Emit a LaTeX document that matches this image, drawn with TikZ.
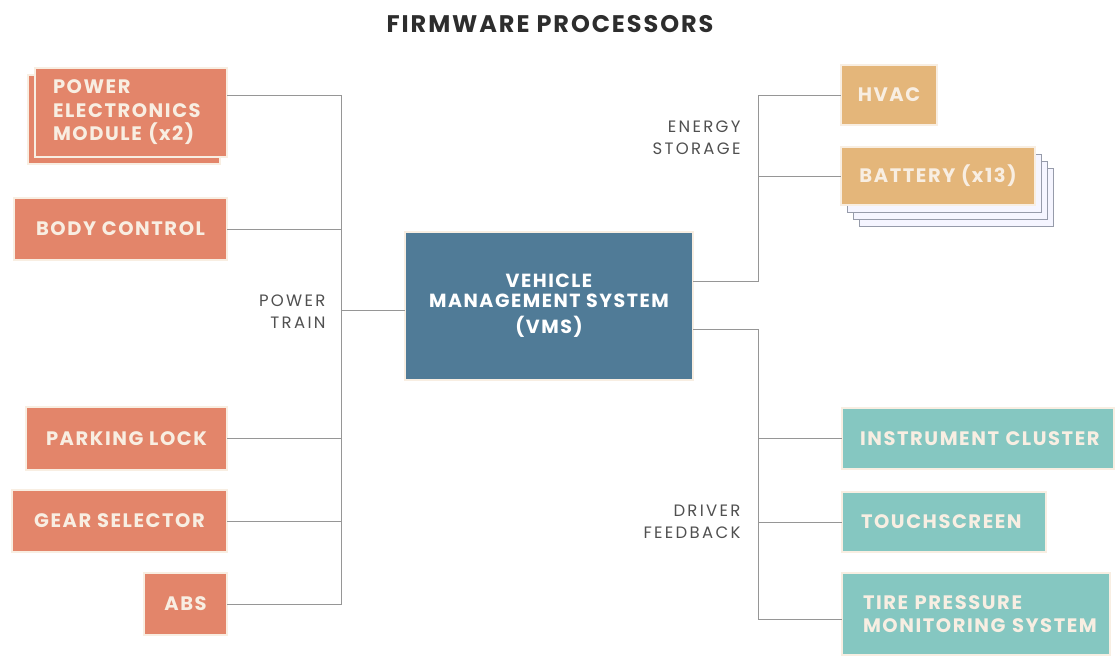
\documentclass[tikz,border=0pt]{standalone}
\usepackage{fontspec}
\setmainfont{Poppins}[LetterSpace=8]
\newfontfamily\grpfont{Poppins}[LetterSpace=14]
\usetikzlibrary{positioning}

\definecolor{ptfill}{RGB}{227,133,106}
\definecolor{esfill}{RGB}{228,182,122}
\definecolor{dffill}{RGB}{133,199,193}
\definecolor{vmsfill}{RGB}{80,123,151}
\definecolor{rimgray}{RGB}{140,132,128}
\definecolor{stackgray}{RGB}{150,155,170}
\definecolor{cream}{RGB}{248,238,226}
\definecolor{wiregray}{RGB}{150,150,150}
\definecolor{labelgray}{RGB}{80,80,80}
\definecolor{titlegray}{RGB}{45,45,45}

\begin{document}
\begin{tikzpicture}[
  x=1pt, y=-1pt,
  box/.style={rectangle, draw=rimgray, double=cream, double distance=1.6pt,
              line width=0.6pt, text=cream, inner sep=0pt,
              font=\bfseries\fontsize{19.5}{23.5}\selectfont},
  ptbox/.style={box, fill=ptfill},
  esbox/.style={box, fill=esfill},
  dfbox/.style={box, fill=dffill},
  sheet/.style={rectangle, draw=stackgray, line width=0.9pt, fill=white!96!blue,
                minimum width=194, minimum height=58},
  wire/.style={draw=wiregray, line width=1pt},
  grp/.style={anchor=east, align=right, text=labelgray,
              font=\grpfont\fontsize{16.5}{22}\selectfont}
]
  \useasboundingbox (0,0) rectangle (1116,657);

  \node[font=\bfseries\fontsize{24}{28}\selectfont, text=titlegray] (title) at (550,24) {FIRMWARE PROCESSORS};

  % power train
  \node[ptbox, minimum width=192, minimum height=89] (pemback) at (124,119.5) {};
  \node[ptbox, minimum width=192, minimum height=89, text width=156, align=left] (pem) at (131,112.5)
    {POWER\\ELECTRONICS\\MODULE (x2)};
  \node[ptbox, minimum width=213, minimum height=62] (body) at (120.5,229) {BODY CONTROL};
  \node[ptbox, minimum width=201, minimum height=63] (park) at (126.5,438.5) {PARKING LOCK};
  \node[ptbox, minimum width=215, minimum height=62] (gear) at (119.5,521) {GEAR SELECTOR};
  \node[ptbox, minimum width=83, minimum height=62] (abs) at (185.5,604) {ABS};

  % central unit
  \node[box, fill=vmsfill, text=white, minimum width=288, minimum height=148, align=center,
        font=\bfseries\fontsize{19}{20}\selectfont] (vms) at (549,306)
    {VEHICLE\\MANAGEMENT SYSTEM\\[6pt](VMS)};

  % energy storage
  \node[esbox, minimum width=96, minimum height=60] (hvac) at (889,95) {HVAC};
  \foreach \d in {3,2,1}
    \node[sheet] (sheet\d) at (938+6*\d,176+7*\d) {};
  \node[esbox, minimum width=194, minimum height=58] (batt) at (938,176) {BATTERY (x13)};

  % driver feedback
  \node[dfbox, minimum width=272, minimum height=61, text width=236, align=left] (ic) at (978,438.5)
    {\mbox{INSTRUMENT CLUSTER}};
  \node[dfbox, minimum width=204, minimum height=60, text width=166, align=left] (ts) at (944,522) {TOUCHSCREEN};
  \node[dfbox, minimum width=268, minimum height=82, text width=226, align=left] (tpms) at (976,614)
    {\mbox{TIRE PRESSURE}\\\mbox{MONITORING SYSTEM}};

  % group labels
  \node[grp] (ptlbl) at (329,312) {POWER\\TRAIN};
  \node[grp] (eslbl) at (744,138) {ENERGY\\STORAGE};
  \node[grp] (dflbl) at (744,522) {DRIVER\\FEEDBACK};

  % buses
  \coordinate (pttop) at (341,95);
  \coordinate (ptbot) at (341,604);
  \coordinate (ptmid) at (341,310);
  \coordinate (estop) at (758,95);
  \coordinate (esbot) at (758,281);
  \coordinate (dftop) at (758,329);
  \coordinate (dfbot) at (758,619);

  \draw[wire] (pem.east |- pttop) -- (pttop) -- (ptbot) -- (abs.east);
  \draw[wire] (body) -- (body -| pttop);
  \draw[wire] (park) -- (park -| pttop);
  \draw[wire] (gear) -- (gear -| pttop);
  \draw[wire] (ptmid) -- (ptmid -| vms.west);

  \draw[wire] (vms.east |- esbot) -- (esbot) -- (estop) -- (hvac);
  \draw[wire] (batt) -- (batt -| estop);

  \draw[wire] (vms.east |- dftop) -- (dftop) -- (dfbot) -- (dfbot -| tpms.west);
  \draw[wire] (ic) -- (ic -| dftop);
  \draw[wire] (ts) -- (ts -| dftop);
\end{tikzpicture}
\end{document}
